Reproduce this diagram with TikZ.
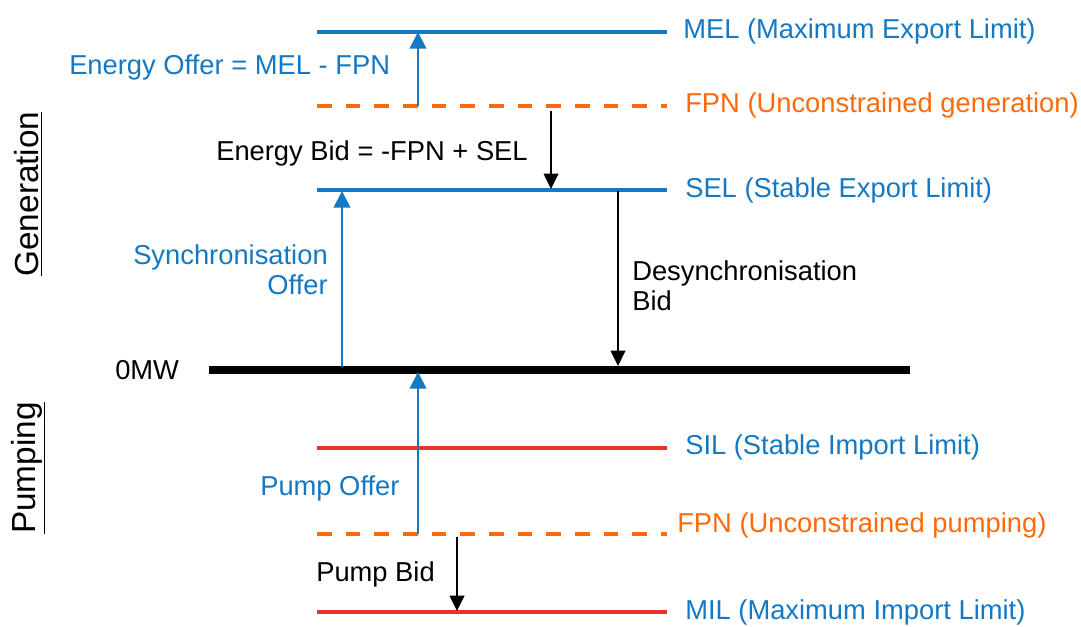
\documentclass[tikz,border=0pt]{standalone}
\usepackage{fontspec}
\setmainfont{Liberation Sans}
\usetikzlibrary{arrows.meta}
\definecolor{cblue}{RGB}{20,120,195}
\definecolor{corange}{RGB}{255,105,10}
\definecolor{cred}{RGB}{235,50,40}
\tikzset{
  lvl/.style={line width=2.4pt},
  bluelvl/.style={lvl,cblue},
  redlvl/.style={lvl,cred},
  fpnlvl/.style={lvl,corange,dash pattern=on 11pt off 10.5pt},
  zero/.style={line width=6pt,black},
  uparr/.style={cblue,line width=1.5pt,-{Triangle[width=12.5pt,length=12.5pt]}},
  dnarr/.style={black,line width=1.1pt,-{Triangle[width=11pt,length=11.5pt]}},
  txt/.style={font=\fontsize{20.5}{22.5}\selectfont,inner sep=0pt},
  lbl/.style={txt,anchor=west},
  side/.style={inner sep=0pt,rotate=90,font=\fontsize{25}{28}\selectfont},
}
\begin{document}
\begin{tikzpicture}[x=0.75pt,y=-0.75pt]
\useasboundingbox (0,0) rectangle (1081,626);
% level coordinates
\coordinate (melL) at (317,32);  \coordinate (melR) at (667,32);
\coordinate (fpgL) at (317,106); \coordinate (fpgR) at (667,106);
\coordinate (selL) at (317,190); \coordinate (selR) at (667,190);
\coordinate (zL) at (209,370);   \coordinate (zR) at (910,370);
\coordinate (silL) at (317,448); \coordinate (silR) at (667,448);
\coordinate (fppL) at (317,534); \coordinate (fppR) at (667,534);
\coordinate (milL) at (317,612); \coordinate (milR) at (667,612);
% levels
\draw[bluelvl] (melL) -- (melR);
\draw[fpnlvl] (fpgL) -- (fpgR);
\draw[bluelvl] (selL) -- (selR);
\draw[zero] (zL) -- (zR);
\draw[redlvl] (silL) -- (silR);
\draw[fpnlvl] (fppL) -- (fppR);
\draw[redlvl] (milL) -- (milR);
% arrow end points
\coordinate (eoA) at (418,106); \coordinate (eoB) at (418,32);
\coordinate (ebA) at (551,111); \coordinate (ebB) at (551,189);
\coordinate (soA) at (342,367); \coordinate (soB) at (342,191);
\coordinate (dbA) at (618,191); \coordinate (dbB) at (618,366);
\coordinate (poA) at (418,534); \coordinate (poB) at (418,372);
\coordinate (pbA) at (457,537); \coordinate (pbB) at (457,611);
\draw[uparr] (eoA) -- (eoB);
\draw[dnarr] (ebA) -- (ebB);
\draw[uparr] (soA) -- (soB);
\draw[dnarr] (dbA) -- (dbB);
\draw[uparr] (poA) -- (poB);
\draw[dnarr] (pbA) -- (pbB);
% right labels
\node[lbl,cblue] (tmel) at (683,31) {MEL (Maximum Export Limit)};
\node[lbl,corange] (tfpg) at (685,105) {FPN (Unconstrained generation)};
\node[lbl,cblue] (tsel) at (685,190) {SEL (Stable Export Limit)};
\node[lbl,cblue] (tsil) at (685,447) {SIL (Stable Import Limit)};
\node[lbl,corange] (tfpp) at (677,525) {FPN (Unconstrained pumping)};
\node[lbl,cblue] (tmil) at (685,612) {MIL (Maximum Import Limit)};
% arrow labels
\node[lbl,cblue] (teo) at (69,67) {Energy Offer = MEL - FPN};
\node[lbl] (teb) at (216,153) {Energy Bid = -FPN + SEL};
\node[txt,cblue,anchor=east,align=right] (tso) at (328,270) {Synchronisation\\Offer};
\node[txt,anchor=west,align=left] (tdb) at (632,286) {Desynchronisation\\Bid};
\node[lbl] (tzero) at (115,370) {0MW};
\node[lbl,cblue] (tpo) at (260,488) {Pump Offer};
\node[lbl] (tpb) at (316,574) {Pump Bid};
% side labels
\node[side] (tgen) at (28,194) {\underline{Generation}};
\node[side] (tpump) at (28,468) {\underline{Pumping}};
\end{tikzpicture}
\end{document}
